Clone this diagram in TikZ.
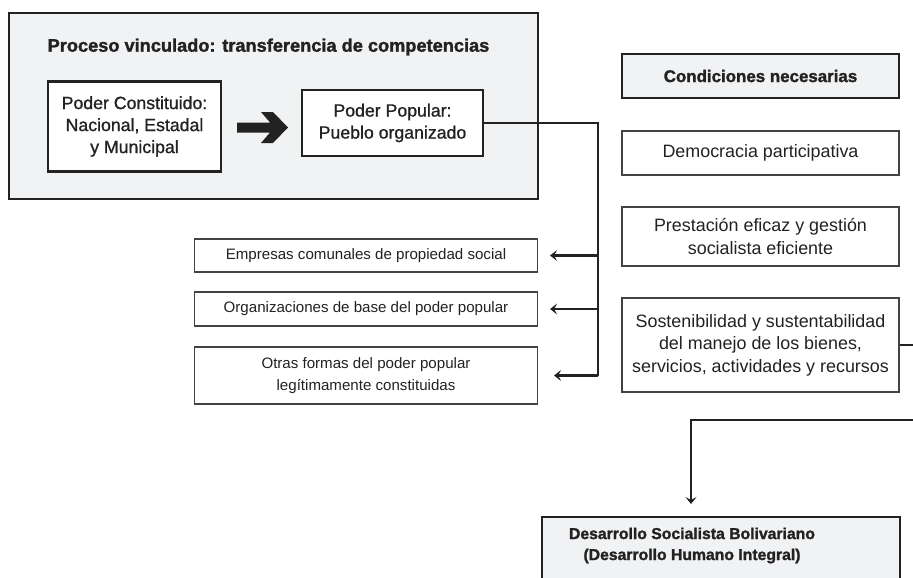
\documentclass[tikz,border=0pt]{standalone}
\usepackage{fontspec}
\setmainfont{Liberation Sans}[BoldFeatures={FakeBold=1.5}]
\newfontfamily\medfont{Liberation Sans}[FakeBold=1.0]
\usetikzlibrary{arrows.meta}
\definecolor{boxgray}{HTML}{F1F2F4}
\definecolor{ink}{HTML}{222222}
\tikzset{
  thickbox/.style={draw=ink, line width=2.4pt, fill=white, inner sep=0pt, align=center, text=ink},
  graybox/.style={draw=ink, line width=2.4pt, fill=boxgray, inner sep=0pt, align=center, text=ink},
  thinbox/.style={draw=ink!85, line width=1.2pt, fill=white, inner sep=0pt, align=center, text=ink},
  lbl/.style={inner sep=0pt, align=center, text=ink},
  conn/.style={draw=ink, line width=2.3pt},
  conn2/.style={draw=ink, line width=1.8pt},
  tip/.style={-{Stealth[length=7pt,width=11pt,inset=3pt]}},
  rfont/.style={font=\fontsize{17.9}{22.5}\selectfont},
  lfont/.style={font=\fontsize{15.1}{22}\selectfont},
  pfont/.style={font=\medfont\fontsize{17.7}{22}\selectfont}
}
\begin{document}
\begin{tikzpicture}[x=1pt,y=-1pt]
\useasboundingbox (0,0) rectangle (913,578);
\clip (0,0) rectangle (913,578);
\fill[white] (0,0) rectangle (913,578);

% outer process box
\node[graybox, minimum width=529pt, minimum height=186pt] (proc) at (273.5,106) {};
\node[lbl, font=\bfseries\fontsize{18.2}{22}\selectfont] (ptitle) at (268.5,47) {Proceso vinculado: transferencia de competencias};
\node[thickbox, pfont, minimum width=173pt, minimum height=90pt] (pc) at (134.5,126.5)
  {Poder Constituido:\\Nacional, Estadal\\y Municipal};
\node[thickbox, pfont, minimum width=181pt, minimum height=66pt] (pp) at (392.5,123)
  {Poder Popular:\\Pueblo organizado};
% block arrow
\fill[ink] (237,122.5) -- (270,122.5) -- (261,112) -- (273,112) -- (288,127.5)
  -- (273,143) -- (261,143) -- (270,132.5) -- (237,132.5) -- cycle;

% left boxes
\node[thinbox, lfont, minimum width=343pt, minimum height=33pt] (b1) at (366,255.5)
  {Empresas comunales de propiedad social};
\node[thinbox, lfont, minimum width=343pt, minimum height=34pt] (b2) at (366,309)
  {Organizaciones de base del poder popular};
\node[thinbox, lfont, minimum width=343pt, minimum height=57pt] (b3) at (366,375.5)
  {Otras formas del poder popular\\leg\'itimamente constituidas};

% right column
\node[graybox, font=\bfseries\fontsize{16.9}{21}\selectfont, minimum width=277pt, minimum height=44pt] (cond) at (760.5,76)
  {Condiciones necesarias};
\node[thinbox, rfont, minimum width=277pt, minimum height=44pt] (dem) at (760.5,153)
  {Democracia participativa};
\node[thinbox, rfont, minimum width=277pt, minimum height=59pt] (pres) at (760.5,236.5)
  {Prestaci\'on eficaz y gesti\'on\\socialista eficiente};
\node[thinbox, rfont, minimum width=277pt, minimum height=94pt] (sost) at (760.5,345)
  {Sostenibilidad y sustentabilidad\\del manejo de los bienes,\\servicios, actividades y recursos};

% bottom box
\node[graybox, minimum width=358pt, minimum height=90pt, anchor=north west] (dsb) at (541,516) {};
\node[lbl, font=\bfseries\fontsize{15.75}{21}\selectfont] (dsbt) at (692,545.5)
  {Desarrollo Socialista Bolivariano\\(Desarrollo Humano Integral)};

% connectors
\coordinate (jb) at (598,375.5);
\draw[conn] (pp.east) -| (jb);
\draw[conn, tip, shorten >=12pt] (jb |- b1.east) -- (b1.east);
\draw[conn, tip, shorten >=12pt] (jb |- b2.east) -- (b2.east);
\draw[conn, tip, shorten >=16pt] (jb) -- (b3.east);

\coordinate (edgeA) at (913,345);
\draw[conn2] (sost.east) -- (edgeA);
\coordinate (edgeB) at (913,420);
\coordinate (dtop) at (691,516);
\draw[conn2, tip, shorten >=12pt] (edgeB) -| (dtop);
\end{tikzpicture}
\end{document}
